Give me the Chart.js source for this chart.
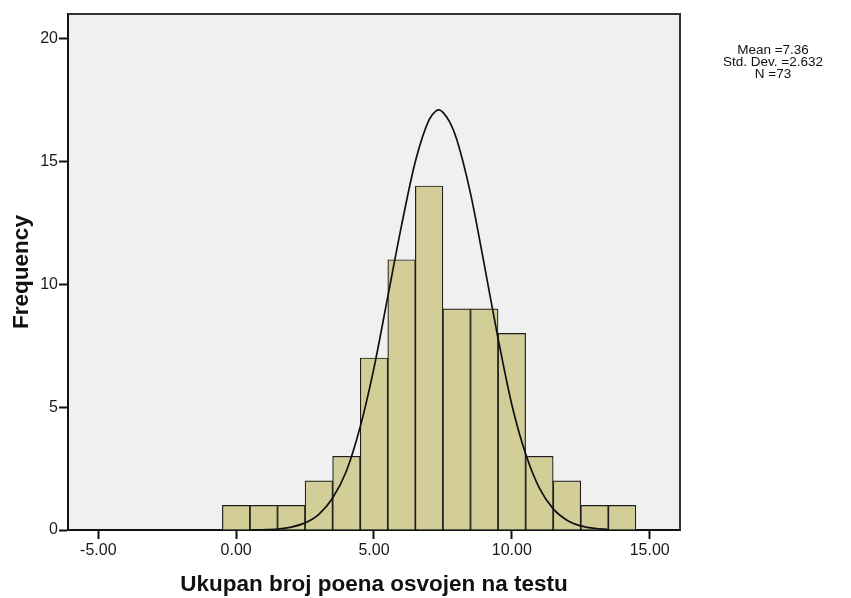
<!DOCTYPE html>
<html>
<head>
<meta charset="utf-8">
<title>Ukupan broj poena osvojen na testu</title>
<script src="https://cdn.jsdelivr.net/npm/chart.js@4.4.1/dist/chart.umd.min.js"></script>
<style>
  html, body { margin: 0; padding: 0; background: #fff; }
  #wrap { width: 851px; height: 598px; }
</style>
</head>
<body>
<div id="wrap"><canvas id="hist" width="851" height="598"></canvas></div>
<script>
// Histogram: one bar per integer score
const scores = [0, 1, 2, 3, 4, 5, 6, 7, 8, 9, 10, 11, 12, 13, 14];
const counts = [1, 1, 1, 2, 3, 7, 11, 14, 9, 9, 8, 3, 2, 1, 1];

// Normal curve, points
const curveX = [0.5, 1, 1.5, 2, 2.5, 3, 3.5, 4, 4.5, 5, 5.5, 6, 6.5, 7, 7.25, 7.36, 7.5, 7.75, 8, 8.5, 9, 9.5, 10, 10.5, 11, 11.5, 12, 12.5, 13, 13.5];
const curveY = [0.0, 0.01, 0.04, 0.12, 0.29, 0.64, 1.3, 2.4, 4.2, 6.6, 9.5, 12.4, 15.0, 16.7, 17.06, 17.1, 17.0, 16.6, 15.9, 13.7, 10.8, 7.8, 5.1, 3.1, 1.7, 0.86, 0.40, 0.17, 0.07, 0.02];

// Axis ticks
const xTicks = [-5, 0, 5, 10, 15];
const yTicks = [0, 5, 10, 15, 20];

// Stats box at the right
const statsLines = ['Mean =7.36', 'Std. Dev. =2.632', 'N =73'];

const FONT = "'Liberation Sans', Arial, sans-serif";

// Grey plot background, frame and the stats text
const framePlugin = {
  id: 'frame',
  beforeDraw(chart) {
    const { ctx, chartArea: a } = chart;
    ctx.save();
    ctx.fillStyle = '#f0f0f0';
    ctx.fillRect(a.left, a.top, a.right - a.left, a.bottom - a.top);
    ctx.restore();
  },
  afterDraw(chart) {
    const { ctx, chartArea: a } = chart;
    ctx.save();
    ctx.strokeStyle = '#333';
    ctx.lineWidth = 2;
    ctx.beginPath();
    ctx.moveTo(a.left, a.top);
    ctx.lineTo(a.right, a.top);
    ctx.lineTo(a.right, a.bottom);
    ctx.stroke();

    ctx.fillStyle = '#111';
    ctx.font = '13.5px ' + FONT;
    ctx.textAlign = 'center';
    ctx.textBaseline = 'middle';
    statsLines.forEach((line, i) => {
      ctx.fillText(line, 773, 50 + i * 12);
    });
    ctx.restore();
  }
};

const ctx = document.getElementById('hist');

new Chart(ctx, {
  type: 'bar',
  data: {
    datasets: [
      {
        type: 'line',
        data: curveX.map((x, i) => ({ x: x, y: curveY[i] })),
        borderColor: '#111',
        borderWidth: 1.7,
        pointRadius: 0,
        fill: false,
        cubicInterpolationMode: 'monotone',
        order: 0
      },
      {
        type: 'bar',
        data: scores.map((s, i) => ({ x: s, y: counts[i] })),
        backgroundColor: '#d3ce97',
        borderColor: '#1e1e1e',
        borderWidth: 1.2,
        barPercentage: 1,
        categoryPercentage: 1,
        order: 1
      }
    ]
  },
  options: {
    responsive: false,
    animation: false,
    layout: { padding: { left: 0, right: 171, top: 14, bottom: 0 } },
    plugins: {
      legend: { display: false },
      tooltip: { enabled: false }
    },
    scales: {
      x: {
        type: 'linear',
        min: -6.1,
        max: 16.1,
        offset: false,
        afterBuildTicks: scale => { scale.ticks = xTicks.map(v => ({ value: v })); },
        afterFit: scale => { scale.height = 68; },
        ticks: {
          padding: 2,
          color: '#1a1a1a',
          font: { family: FONT, size: 16 },
          callback: v => v.toFixed(2)
        },
        grid: { offset: false, drawOnChartArea: false, drawTicks: true, tickLength: 9, tickWidth: 2, color: '#111' },
        border: { display: true, color: '#111', width: 2 },
        title: {
          display: true,
          text: 'Ukupan broj poena osvojen na testu',
          color: '#111',
          font: { family: FONT, size: 22.5, weight: 'bold' },
          padding: { top: 0, bottom: 0 }
        }
      },
      y: {
        min: 0,
        max: 21,
        afterBuildTicks: scale => { scale.ticks = yTicks.map(v => ({ value: v })); },
        afterFit: scale => { scale.width = 68; },
        ticks: {
          padding: 1,
          color: '#1a1a1a',
          font: { family: FONT, size: 16 }
        },
        grid: { drawOnChartArea: false, drawTicks: true, tickLength: 9, tickWidth: 2, color: '#111' },
        border: { display: true, color: '#111', width: 2 },
        title: {
          display: true,
          text: 'Frequency',
          color: '#111',
          font: { family: FONT, size: 22.5, weight: 'bold' },
          padding: { top: 8, bottom: 0 }
        }
      }
    }
  },
  plugins: [framePlugin]
});
</script>
</body>
</html>
